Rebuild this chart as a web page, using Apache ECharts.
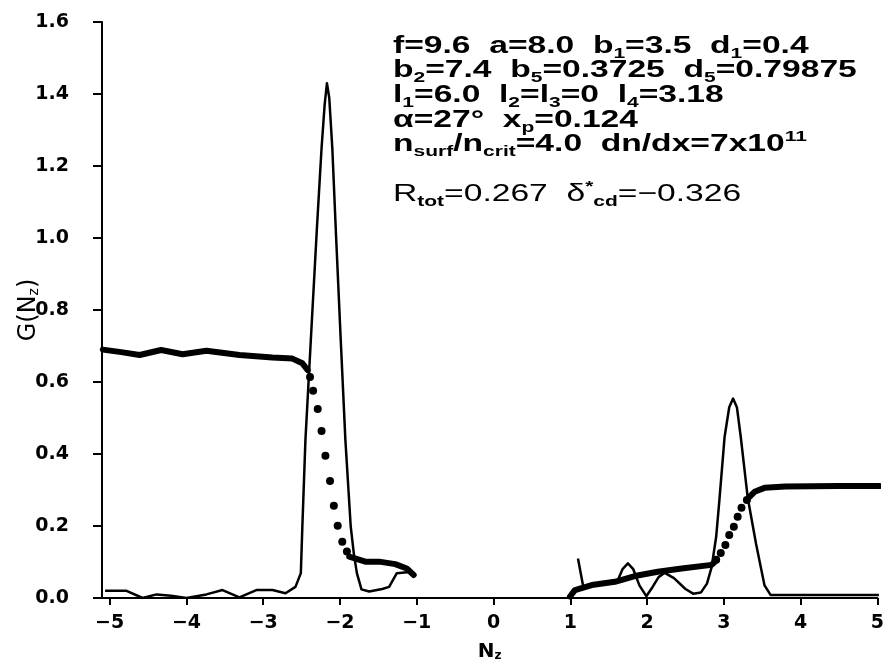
<!DOCTYPE html>
<html>
<head>
    <meta charset="UTF-8">
    <title>G(Nz)</title>
    <script src="https://cdn.jsdelivr.net/npm/echarts@6/dist/echarts.min.js"></script>
    <style>
        *{margin:0;padding:0}
        html,body{width:100%;height:100%;background:#fff}
        #main{width:887px;height:668px}
    </style>
</head>
<body>
    <div id="main"></div>
    <script type="text/javascript">
        // tick values
        var xTicks = [-5, -4, -3, -2, -1, 0, 1, 2, 3, 4, 5];
        var yTicks = [0, 0.2, 0.4, 0.6, 0.8, 1.0, 1.2, 1.4, 1.6];

        // G(Nz) spectrum, thin line (null = gap)
        var specNz = [-5.06, -4.78, -4.57, -4.39, -4.2, -4.0, -3.74, -3.53, -3.31, -3.09, -2.88, -2.71, -2.58, -2.51, -2.49, -2.45, -2.38, -2.3, -2.24, -2.2, -2.17, -2.14, -2.1, -2.05, -1.99, -1.93, -1.86, -1.82, -1.78, -1.72, -1.62, -1.45, -1.36, -1.26, -1.06,
            null,
            1.10, 1.17, 1.3, 1.5, 1.62, 1.68, 1.75, 1.82, 1.9, 1.99, 2.07, 2.15, 2.23, 2.35, 2.5, 2.6, 2.7, 2.78, 2.84, 2.9, 2.94, 3.01, 3.07, 3.12, 3.17, 3.22, 3.31, 3.42, 3.53, 3.61, 4.5, 5.02];
        var specG = [0.02, 0.02, 0.0, 0.01, 0.006, 0.0, 0.01, 0.022, 0.002, 0.022, 0.022, 0.013, 0.031, 0.069, 0.2, 0.44, 0.716, 1.03, 1.25, 1.37, 1.43, 1.39, 1.25, 1.0, 0.716, 0.44, 0.198, 0.124, 0.069, 0.024, 0.018, 0.025, 0.031, 0.069, 0.073,
            null,
            0.11, 0.03, 0.035, 0.04, 0.05, 0.08, 0.096, 0.08, 0.035, 0.005, 0.03, 0.058, 0.07, 0.055, 0.025, 0.012, 0.015, 0.04, 0.085, 0.17, 0.267, 0.448, 0.53, 0.554, 0.53, 0.448, 0.28, 0.15, 0.035, 0.008, 0.008, 0.008];

        // thick curve, solid parts
        var thickNz = [-5.09, -4.85, -4.61, -4.33, -4.05, -3.74, -3.31, -2.88, -2.62, -2.49, -2.42,
            null,
            -1.88, -1.86, -1.67, -1.49, -1.28, -1.13, -1.04,
            null,
            0.996, 1.06, 1.28, 1.58, 1.84, 2.14, 2.45, 2.84, 2.88,
            null,
            3.33, 3.40, 3.53, 3.8, 4.5, 5.03];
        var thickG = [0.69, 0.683, 0.675, 0.689, 0.677, 0.687, 0.675, 0.668, 0.665, 0.652, 0.633,
            null,
            0.115, 0.11, 0.101, 0.101, 0.094, 0.082, 0.064,
            null,
            0.004, 0.022, 0.036, 0.045, 0.061, 0.073, 0.082, 0.092, 0.1,
            null,
            0.28, 0.295, 0.306, 0.31, 0.311, 0.311];

        // thick curve, dotted parts
        var dotNz = [-2.39, -2.35, -2.29, -2.24, -2.19, -2.13, -2.08, -2.03, -1.97, -1.91,
            2.90, 2.96, 3.02, 3.07, 3.13, 3.18, 3.23, 3.30];
        var dotG = [0.614, 0.576, 0.525, 0.464, 0.395, 0.325, 0.256, 0.201, 0.156, 0.129,
            0.106, 0.125, 0.147, 0.175, 0.198, 0.226, 0.251, 0.272];

        var noteLines = [
            'f=9.6  a=8.0  b{s|1}=3.5  d{s|1}=0.4',
            'b{s|2}=7.4  b{s|5}=0.3725  d{s|5}=0.79875',
            'l{s|1}=6.0  l{s|2}=l{s|3}=0  l{s|4}=3.18',
            'α=27°  x{s|p}=0.124',
            'n{s|surf}/n{s|crit}=4.0  dn/dx=7x10{u|11}',
            '',
            'R{s|tot}=0.267  δ{u|*}{s|cd}=−0.326'
        ];

        function pairs(xs, ys) {
            return xs.map(function (x, i) {
                return x === null ? ['-', '-'] : [x, ys[i]];
            });
        }

        var rich = {
            s: {fontSize: 15, fontWeight: 'bold', fontFamily: 'Liberation Sans', verticalAlign: 'bottom', lineHeight: 15},
            u: {fontSize: 15, fontWeight: 'bold', fontFamily: 'Liberation Sans', verticalAlign: 'top', lineHeight: 15}
        };
        var notes = [];
        noteLines.forEach(function (t, i) {
            if (!t) return;
            notes.push({
                type: 'text',
                x: 393,
                y: 31 + i * 24.7,
                scaleX: 1.4,
                style: {
                    text: t,
                    font: (i === 6 ? 'normal' : 'bold') + ' 24px "Liberation Sans"',
                    fill: '#000',
                    lineHeight: 30,
                    align: 'left',
                    verticalAlign: 'top',
                    rich: rich
                }
            });
        });

        var myChart = echarts.init(document.getElementById('main'));
        var labelStyle = {color: '#000', fontFamily: 'DejaVu Sans', fontWeight: 'bold', fontSize: 19};

        option = {
            animation: false,
            backgroundColor: '#fff',
            grid: {left: 102, right: 7, top: 22, bottom: 70},
            xAxis: {
                type: 'value',
                min: -5.1,
                max: 5,
                name: 'N{s|z}',
                nameLocation: 'middle',
                nameGap: 44,
                nameMoveOverlap: false,
                nameTextStyle: {
                    color: '#000', fontFamily: 'DejaVu Sans', fontWeight: 'bold', fontSize: 20,
                    rich: {s: {fontSize: 12, fontWeight: 'bold', verticalAlign: 'bottom', lineHeight: 12}}
                },
                axisLine: {onZero: false, lineStyle: {color: '#000', width: 2}},
                axisTick: {customValues: xTicks, length: 7, lineStyle: {color: '#000', width: 2}},
                axisLabel: Object.assign({
                    customValues: xTicks,
                    margin: 16,
                    formatter: function (v) { return String(v).replace('-', '\u2212'); }
                }, labelStyle),
                splitLine: {show: false}
            },
            yAxis: {
                type: 'value',
                min: 0,
                max: 1.6,
                interval: 0.2,
                name: 'G(N{s|z})',
                nameLocation: 'middle',
                nameRotate: 90,
                nameGap: 61,
                nameMoveOverlap: false,
                nameTextStyle: {
                    color: '#000', fontFamily: 'DejaVu Sans', fontSize: 24,
                    rich: {s: {fontSize: 14, verticalAlign: 'bottom', lineHeight: 14}}
                },
                axisLine: {show: true, onZero: false, lineStyle: {color: '#000', width: 2}},
                axisTick: {show: true, length: 9, lineStyle: {color: '#000', width: 2}},
                axisLabel: Object.assign({
                    margin: 33,
                    formatter: function (v) { return v.toFixed(1); }
                }, labelStyle),
                splitLine: {show: false}
            },
            graphic: notes,
            series: [
                {
                    name: 'G',
                    type: 'line',
                    data: pairs(specNz, specG),
                    showSymbol: false,
                    connectNulls: false,
                    lineStyle: {color: '#000', width: 2.5, join: 'round'}
                },
                {
                    name: 'thick',
                    type: 'line',
                    data: pairs(thickNz, thickG),
                    showSymbol: false,
                    connectNulls: false,
                    lineStyle: {color: '#000', width: 6, cap: 'round', join: 'round'}
                },
                {
                    name: 'dots',
                    type: 'scatter',
                    data: pairs(dotNz, dotG),
                    symbolSize: 8,
                    itemStyle: {color: '#000', opacity: 1}
                }
            ]
        };
        myChart.setOption(option);
    </script>
</body>
</html>
